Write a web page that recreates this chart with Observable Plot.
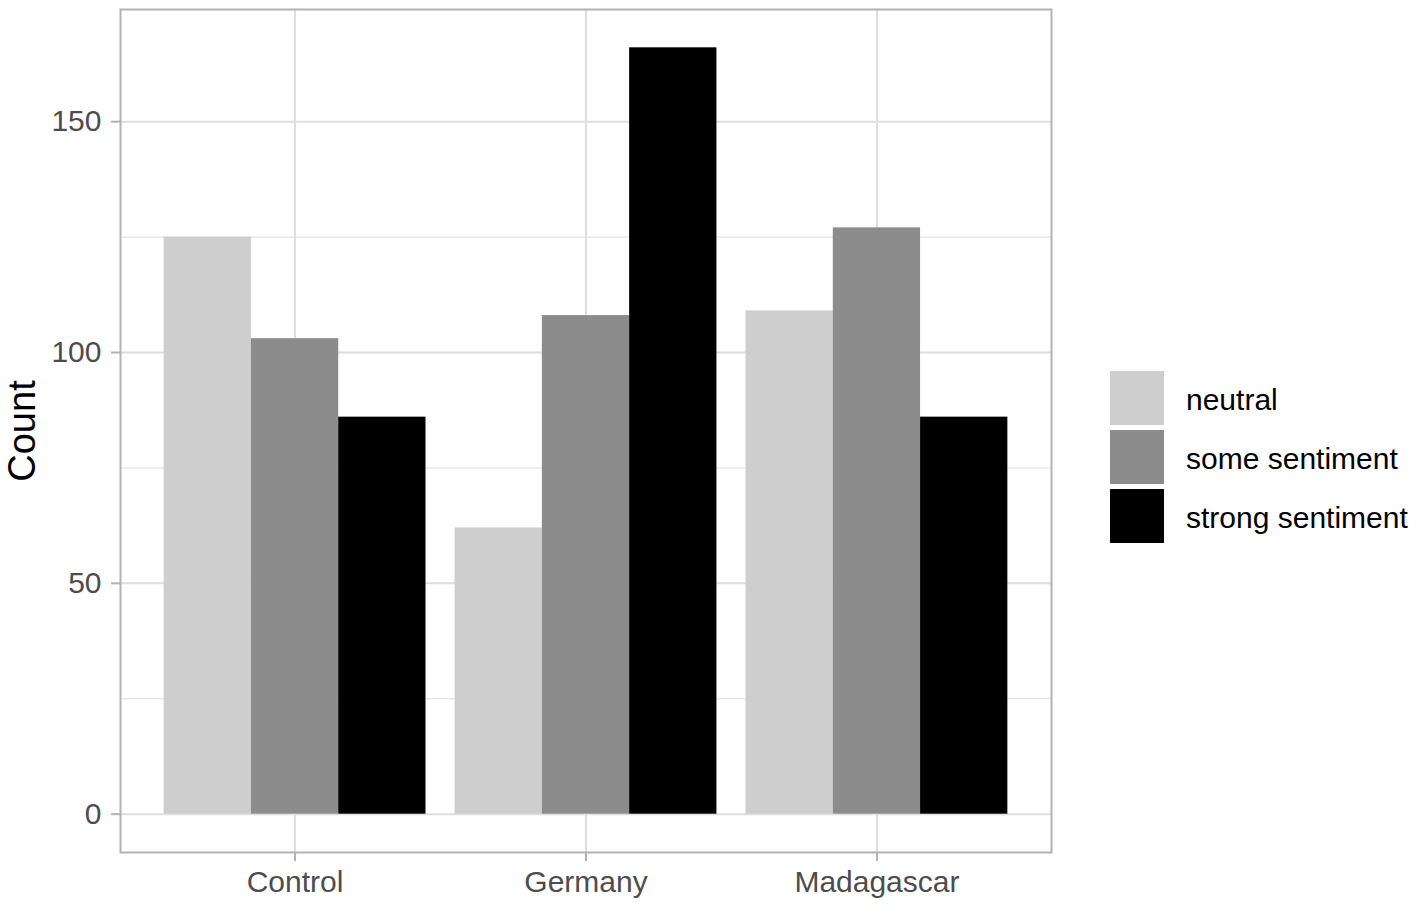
<!DOCTYPE html>
<html>
<head>
<meta charset="utf-8">
<script src="https://cdn.jsdelivr.net/npm/d3@7"></script>
<script src="https://cdn.jsdelivr.net/npm/@observablehq/plot@0.6"></script>
<style>
  html, body { margin: 0; padding: 0; background: #fff; overflow: hidden; }
  #wrap { position: relative; width: 1417px; height: 906px; font-family: "Liberation Sans", Arial, sans-serif; }
  #legend { position: absolute; left: 1110px; top: 371px; }
  .row { display: flex; align-items: center; height: 54px; margin-bottom: 5px; }
  .key { width: 54px; height: 54px; }
  .lab { margin-left: 22px; font-size: 30px; color: #000; white-space: nowrap; position: relative; top: 2px; }
</style>
</head>
<body>
<div id="wrap"></div>
<script>
const countries = ["Control", "Germany", "Madagascar"];
const sentiments = ["neutral", "some sentiment", "strong sentiment"];
const neutral = [125, 62, 109];
const someSentiment = [103, 108, 127];
const strongSentiment = [86, 166, 86];
const fills = ["#CECECE", "#8C8C8C", "#000000"];
const majorTicks = [0, 50, 100, 150];
const minorTicks = [25, 75, 125];

const series = [neutral, someSentiment, strongSentiment];
const data = [];
sentiments.forEach((s, j) => countries.forEach((c, i) => data.push({country: c, sentiment: s, count: series[j][i]})));

const W = 1417, H = 906;
const layout = {
  width: W, height: H,
  marginLeft: 120, marginRight: W - 1051, marginTop: 9, marginBottom: H - 852,
  x: {domain: countries, paddingInner: 0.1, paddingOuter: 0.15, round: false, axis: null},
  y: {domain: [-8.3, 174.3], axis: null},
  color: {domain: sentiments, range: fills}
};

// probe the band width of the x scale
const probe = Plot.plot({...layout, marks: [Plot.barY(data, {x: "country", y1: 0, y2: "count"})]});
let bw = probe.scale("x") && probe.scale("x").bandwidth;
if (!(bw > 0)) bw = 0.9 * (W - layout.marginLeft - layout.marginRight) / (countries.length - 0.1 + 0.3);
const third = bw / 3;

const grey = "#DEDEDE";
const marks = [
  Plot.gridY(minorTicks, {stroke: grey, strokeOpacity: 1, strokeWidth: 1}),
  Plot.gridY(majorTicks, {stroke: grey, strokeOpacity: 1, strokeWidth: 2}),
  Plot.gridX({stroke: grey, strokeOpacity: 1, strokeWidth: 2}),
  ...sentiments.map((s, j) => Plot.barY(data.filter(d => d.sentiment === s), {
    x: "country", y1: 0, y2: "count", fill: "sentiment",
    insetLeft: j * third, insetRight: (2 - j) * third
  })),
  Plot.axisY(majorTicks, {tickSize: 9, tickPadding: 10, stroke: "#B3B3B3", strokeWidth: 2, fill: "#4D4D4D", fontSize: 30, label: null}),
  Plot.axisX({tickSize: 9, tickPadding: 9, stroke: "#B3B3B3", strokeWidth: 2, fill: "#4D4D4D", fontSize: 30, label: null}),
  Plot.frame({stroke: "#B3B3B3", strokeWidth: 2}),
  Plot.text(["Count"], {text: d => d, frameAnchor: "left", dx: -98, rotate: -90, textAnchor: "middle", lineAnchor: "middle", fontSize: 38, fill: "#000"})
];

const chart = Plot.plot({
  ...layout,
  style: {fontFamily: "'Liberation Sans', Arial, sans-serif", fontSize: "30px", background: "#fff", overflow: "visible"},
  marks
});
const wrap = document.getElementById("wrap");
wrap.appendChild(chart);

const legend = document.createElement("div");
legend.id = "legend";
sentiments.forEach((s, j) => {
  const row = document.createElement("div");
  row.className = "row";
  const key = document.createElement("div");
  key.className = "key";
  key.style.background = fills[j];
  const lab = document.createElement("div");
  lab.className = "lab";
  lab.textContent = s;
  row.appendChild(key); row.appendChild(lab);
  legend.appendChild(row);
});
wrap.appendChild(legend);
</script>
</body>
</html>
